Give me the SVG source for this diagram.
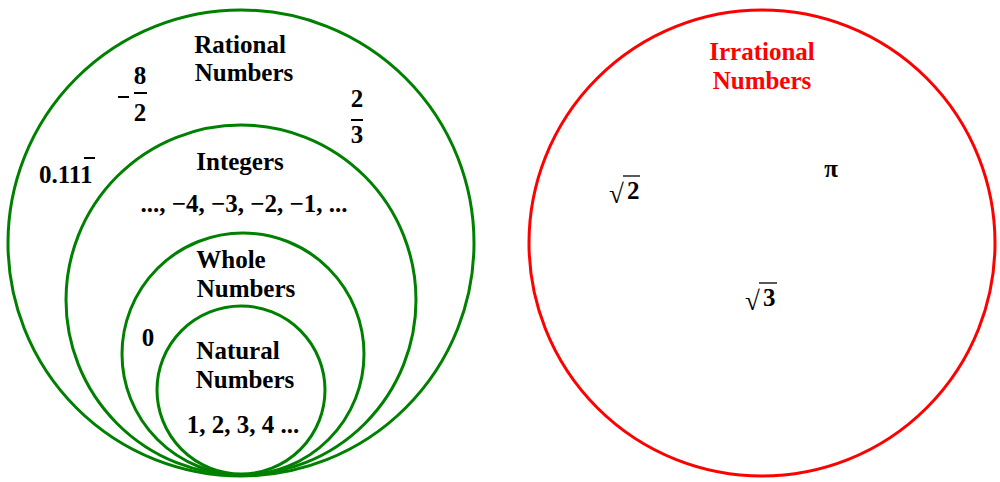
<svg xmlns="http://www.w3.org/2000/svg" width="1000" height="482" viewBox="0 0 1000 482">
<style>
.g{fill:none;stroke:#008000;stroke-width:3}
.r{fill:none;stroke:#ff0000;stroke-width:3}
text{font-family:"Liberation Serif","Times New Roman",serif;font-weight:bold;font-size:25px;fill:#000}
.c{text-anchor:middle}
.red{fill:#ff0000}
.bar{stroke:#000;stroke-width:2}
.thin{stroke:#000;stroke-width:1.3}
.rt{font-weight:normal;font-size:27px}
</style>
<rect width="1000" height="482" fill="#fff"/>
<g id="rational">
<circle class="g" cx="241" cy="243" r="233"/>
<text class="c" x="240" y="53">Rational</text>
<text class="c" x="244" y="81">Numbers</text>
</g>
<g id="integers">
<circle class="g" cx="241" cy="300" r="175"/>
<text class="c" x="240" y="170">Integers</text>
<text class="c" x="244" y="212">..., −4, −3, −2, −1, ...</text>
</g>
<g id="whole">
<circle class="g" cx="243" cy="354" r="121"/>
<text class="c" x="231" y="268">Whole</text>
<text class="c" x="246" y="297">Numbers</text>
<text class="c" x="148" y="346">0</text>
</g>
<g id="natural">
<circle class="g" cx="241" cy="390" r="84"/>
<text class="c" x="238" y="359">Natural</text>
<text class="c" x="245" y="388">Numbers</text>
<text class="c" x="243" y="433">1, 2, 3, 4 ...</text>
</g>
<g id="rational-examples">
<line class="bar" x1="118" y1="97" x2="129" y2="97"/>
<text class="c" x="140" y="84">8</text>
<line class="bar" x1="134" y1="93" x2="147" y2="93"/>
<text class="c" x="140" y="121">2</text>
<text class="c" x="357" y="107">2</text>
<line class="bar" x1="351" y1="120" x2="363" y2="120"/>
<text class="c" x="357" y="143">3</text>
<text x="39" y="183">0.111</text>
<line class="bar" x1="84" y1="158" x2="95" y2="158"/>
</g>
<g id="irrational">
<circle class="r" cx="762" cy="243" r="233"/>
<text class="c red" x="762" y="60">Irrational</text>
<text class="c red" x="762" y="89">Numbers</text>
<text class="rt" x="609" y="203">√</text>
<line class="thin" x1="623" y1="176" x2="640" y2="176"/>
<text x="627" y="199">2</text>
<text class="rt" x="745" y="310">√</text>
<line class="thin" x1="759" y1="283" x2="777" y2="283"/>
<text x="763" y="306">3</text>
<text class="c" x="831" y="177">π</text>
</g>
</svg>
